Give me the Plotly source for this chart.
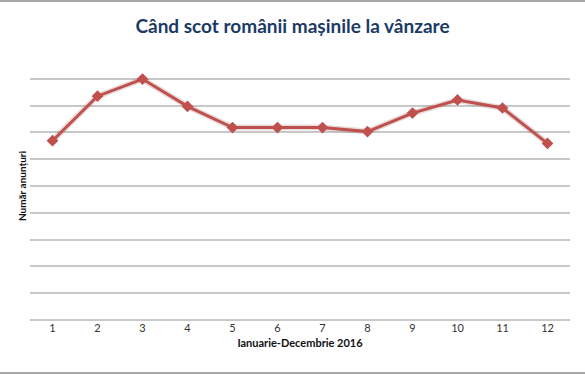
import plotly.graph_objects as go

months = ["1", "2", "3", "4", "5", "6", "7", "8", "9", "10", "11", "12"]
listings = [6.69, 8.35, 8.99, 7.97, 7.18, 7.18, 7.18, 7.03, 7.72, 8.21, 7.91, 6.59]

title_text = "Când scot românii mașinile la vânzare"
x_title = "Ianuarie-Decembrie 2016"
y_title = "Număr anunțuri"

LINE = "#C0504D"
FONT = "Lato"

fig = go.Figure()
# soft shadow under the line
fig.add_trace(go.Scatter(
    x=months, y=listings, mode="lines",
    line=dict(color="rgba(120,60,60,0.18)", width=6),
    hoverinfo="skip", showlegend=False,
))
fig.add_trace(go.Scatter(
    x=months, y=listings, mode="lines+markers",
    line=dict(color=LINE, width=3),
    marker=dict(symbol="diamond", size=9, color=LINE),
    showlegend=False,
))

fig.update_layout(
    width=585, height=375,
    margin=dict(l=30, r=15, t=52, b=55),
    paper_bgcolor="white", plot_bgcolor="white",
    title=dict(text="<b>" + title_text + "</b>", x=0.5, xanchor="center",
               y=1 - 26 / 375, yanchor="middle",
               font=dict(family=FONT, size=19, color="#1B3A66")),
    font=dict(family=FONT),
    shapes=[
        dict(type="line", xref="paper", yref="paper", x0=-30 / 540, x1=1 + 15 / 540,
             y0=1 + 51 / 268, y1=1 + 51 / 268, line=dict(color="#A8A8A8", width=2)),
        dict(type="line", xref="paper", yref="paper", x0=-30 / 540, x1=1 + 15 / 540,
             y0=-53 / 268, y1=-53 / 268, line=dict(color="#A8A8A8", width=2)),
    ],
)
fig.update_xaxes(
    type="category", range=[-0.5, 11.5], showgrid=False, showline=False,
    ticks="", tickfont=dict(family=FONT, size=11, color="#333333"),
    title=dict(text="<b>" + x_title + "</b>", standoff=6,
               font=dict(family=FONT, size=11, color="#111111")),
    zeroline=False,
)
fig.update_yaxes(
    range=[0, 10], dtick=1, showticklabels=False, showgrid=True,
    gridcolor="#C8C8C8", gridwidth=1.5, zeroline=True, zerolinecolor="#C8C8C8",
    zerolinewidth=1.5, showline=False, automargin=False,
    title=dict(text="<b>" + y_title + "</b>", standoff=0,
               font=dict(family=FONT, size=10, color="#111111")),
)

fig.write_html(
    "out.html",
    config={"displayModeBar": False},
    post_script="document.body.style.margin='0';document.body.style.overflow='hidden';",
)
